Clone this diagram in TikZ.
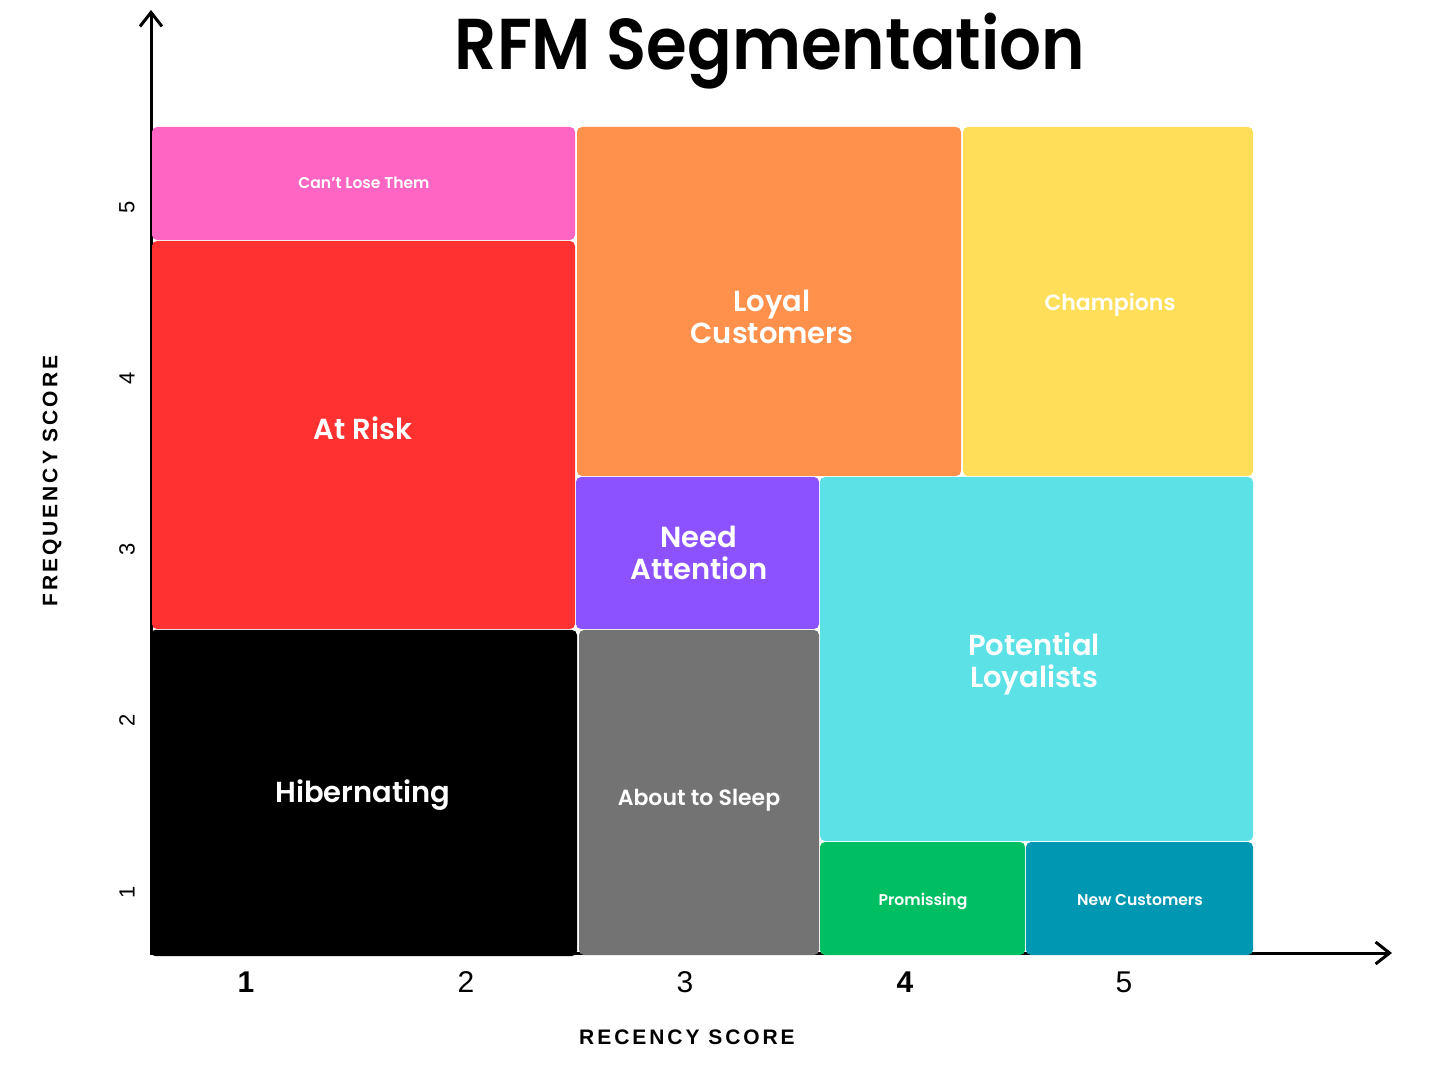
\documentclass[tikz,border=0pt]{standalone}
\usepackage{fontspec}
\setmainfont{Poppins}[BoldFont={Poppins SemiBold}]
\newfontfamily\axisfont{Liberation Sans}
\newfontfamily\axisspaced[LetterSpace=14]{Liberation Sans}
\usetikzlibrary{arrows.meta,fit}
\definecolor{cpink}{HTML}{FF66C4}
\definecolor{cred}{HTML}{FF3131}
\definecolor{corange}{HTML}{FF914D}
\definecolor{cyellow}{HTML}{FFDE59}
\definecolor{cpurple}{HTML}{8C52FF}
\definecolor{cgray}{HTML}{737373}
\definecolor{ccyan}{HTML}{5CE1E6}
\definecolor{cgreen}{HTML}{00BF63}
\definecolor{cteal}{HTML}{0097B2}
\begin{document}
\begin{tikzpicture}[x=0.5pt,y=-0.5pt,
  seg/.style={inner sep=0pt, rounded corners=2.5pt},
  lab/.style={inner sep=0pt, text=white, align=center, anchor=base},
  big/.style={font=\bfseries\fontsize{14.5}{16}\selectfont},
  mid/.style={font=\bfseries\fontsize{11}{14}\selectfont},
  small/.style={font=\bfseries\fontsize{7.8}{10}\selectfont},
  axisline/.style={line width=1.5pt, -{Straight Barb[length=7pt,width=11pt,line width=1.5pt]}},
  xtick/.style={font=\axisfont\fontsize{15}{16}\selectfont},
  xtickb/.style={font=\axisfont\bfseries\fontsize{15}{16}\selectfont},
  ytick/.style={font=\axisfont\fontsize{11}{12}\selectfont, rotate=90},
  axtitle/.style={font=\axisspaced\bfseries\fontsize{10.5}{12}\selectfont}]
\useasboundingbox (0,0) rectangle (1436,1080);
\fill[white] (0,0) rectangle (1436,1080);

% axes
\coordinate (o) at (151,955);
\coordinate (ytip) at (151,10);
\coordinate (xo) at (150,953);
\coordinate (xtip) at (1392,953);
\draw[axisline] (o) -- (ytip);
\draw[axisline] (xo) -- (xtip);

% title
\node[font=\bfseries\fontsize{36}{40}\selectfont, anchor=base, inner sep=0pt] (title) at (770,70) {\scalebox{0.915}[1]{RFM Segmentation}};

% segment boxes
\node[seg, fill=cpink, fit={(152,127)(575,240)}] (cant) {};
\node[seg, fill=cred, fit={(152,241)(575,629)}] (risk) {};
\node[seg, fill=black, fit={(150,630)(577,956)}] (hib) {};
\node[seg, fill=corange, fit={(577,127)(961,476)}] (loyal) {};
\node[seg, fill=cyellow, fit={(963,127)(1253,476)}] (champ) {};
\node[seg, fill=cpurple, fit={(576,477)(819,629)}] (need) {};
\node[seg, fill=cgray, fit={(579,630)(819,955)}] (sleep) {};
\node[seg, fill=ccyan, fit={(820,477)(1253,841)}] (pot) {};
\node[seg, fill=cgreen, fit={(820,842)(1025,955)}] (prom) {};
\node[seg, fill=cteal, fit={(1026,842)(1253,955)}] (new) {};

% labels
\node[lab, small] (cantl) at (364,189) {Can't Lose Them};
\node[lab, big] (riskl) at (363,440) {At Risk};
\node[lab, big] (hibl) at (363,802) {Hibernating};
\node[lab, big] (loyall) at (772,344) {Loyal\\Customers};
\node[lab, mid] (champl) at (1110,311) {Champions};
\node[lab, big] (needl) at (699,580) {Need\\Attention};
\node[lab, mid] (sleepl) at (699,805) {About to Sleep};
\node[lab, big] (potl) at (1034,687) {Potential\\Loyalists};
\node[lab, small] (proml) at (923,905) {Promissing};
\node[lab, small] (newl) at (1140,905) {New Customers};

% ticks
\node[xtickb] (x1) at (246,982) {1};
\node[xtick] (x2) at (466,982) {2};
\node[xtick] (x3) at (685,982) {3};
\node[xtickb] (x4) at (905,982) {4};
\node[xtick] (x5) at (1124,982) {5};
\node[ytick] (y5) at (127,207) {5};
\node[ytick] (y4) at (127,378) {4};
\node[ytick] (y3) at (127,549) {3};
\node[ytick] (y2) at (127,720) {2};
\node[ytick] (y1) at (127,892) {1};

\node[axtitle] (xt) at (687,1037) {RECENCY SCORE};
\node[axtitle, rotate=90] (yt) at (52,481) {FREQUENCY SCORE};
\end{tikzpicture}
\end{document}
